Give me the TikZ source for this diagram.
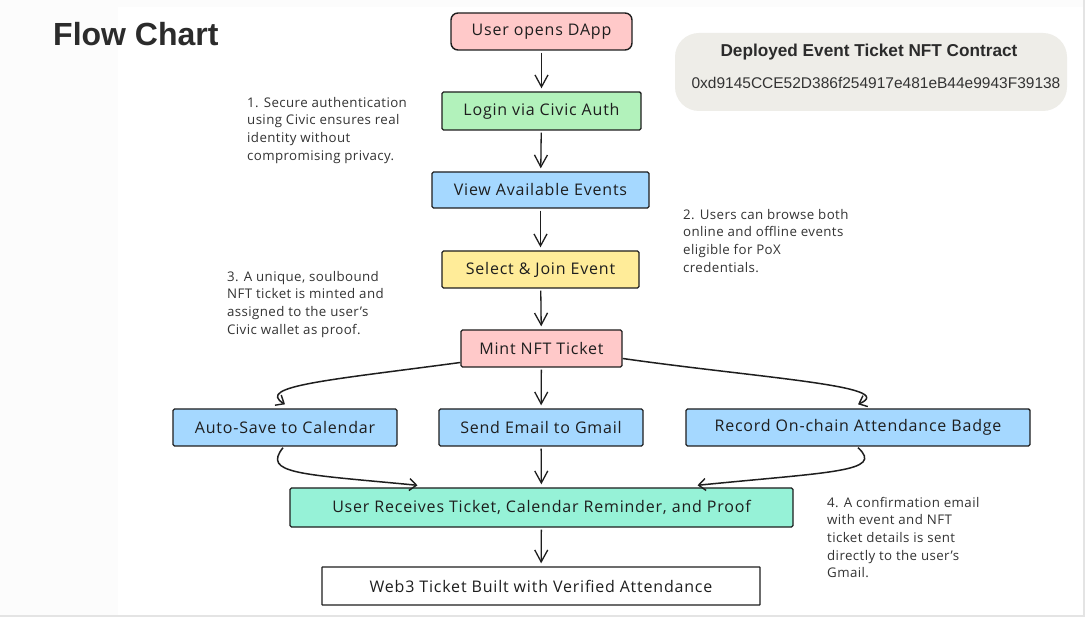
\documentclass[tikz,border=0pt]{standalone}
\usepackage{fontspec}
\setmainfont{Open Sans}
\newfontfamily\titlefont{Liberation Sans}
\usetikzlibrary{arrows.meta}
\definecolor{ink}{HTML}{1E1E1E}
\definecolor{notegray}{HTML}{333333}
\definecolor{cpink}{HTML}{FFC9C9}
\definecolor{cgreen}{HTML}{B2F2BB}
\definecolor{cblue}{HTML}{A5D8FF}
\definecolor{cyellow}{HTML}{FFEC99}
\definecolor{cteal}{HTML}{96F2D7}
\definecolor{cbg}{HTML}{EEEDE8}
\definecolor{titlegray}{HTML}{2B2B2B}
\definecolor{stripgray}{HTML}{FCFCFC}
\definecolor{edgegray}{HTML}{E4E4E4}
\begin{document}
\begin{tikzpicture}[x=1pt,y=-1pt,
  box/.style={draw=ink, line width=1.4pt, rounded corners=1.5pt, minimum height=37pt,
    inner sep=0pt, text=ink, font=\fontsize{16}{19}\selectfont\addfontfeature{LetterSpace=5}},
  note/.style={anchor=north west, align=left, inner sep=0pt, text=notegray,
    font=\fontsize{13.3}{17.6}\selectfont\addfontfeature{LetterSpace=3}},
  arr/.style={draw=ink, line width=1.3pt, shorten <=2pt, shorten >=3pt,
    -{Straight Barb[length=12pt, width=13pt, line width=1.3pt]}},
  carr/.style={draw=ink, line width=1.5pt,
    -{Straight Barb[length=7pt, width=12pt, line width=1.4pt]}}]
\useasboundingbox (0,0) rectangle (1085,617);
% background
\fill[white] (0,0) rectangle (1085,617);
\fill[stripgray] (0,0) rectangle (118,615);
\fill[stripgray] (0,0) rectangle (1085,7);
\fill[edgegray] (0,615) rectangle (1085,617);
\fill[edgegray] (1083,0) rectangle (1085,617);

% title
\node[anchor=base west, inner sep=0pt, text=titlegray,
  font=\titlefont\bfseries\fontsize{32}{36}\selectfont] (title) at (53,46) {Flow Chart};

% contract panel
\node[fill=cbg, rounded corners=24pt, minimum width=392pt, minimum height=78pt,
  inner sep=0pt] (contract) at (871,72) {};
\node[inner sep=0pt, text=titlegray, font=\titlefont\bfseries\fontsize{17.2}{20}\selectfont]
  (ctitle) at (869,52) {Deployed Event Ticket NFT Contract};
\node[inner sep=0pt, text=notegray, font=\titlefont\fontsize{15.5}{18}\selectfont]
  (caddr) at (876,83) {0xd9145CCE52D386f254917e481eB44e9943F39138};

% main flow
\node[box, fill=cpink, rounded corners=7pt, minimum width=181pt] (dapp) at (541.5,31.5) {User opens DApp};
\node[box, fill=cgreen, minimum width=199pt, minimum height=38pt] (login) at (541.5,111) {Login via Civic Auth};
\node[box, fill=cblue, minimum width=217pt, minimum height=36pt] (view) at (540.5,190) {View Available Events};
\node[box, fill=cyellow, minimum width=197pt] (select) at (540.5,269.5) {Select \& Join Event};
\node[box, fill=cpink, minimum width=161pt] (mint) at (541.5,348.5) {Mint NFT Ticket};
\node[box, fill=cblue, minimum width=224pt] (auto) at (285,427.5) {Auto-Save to Calendar};
\node[box, fill=cblue, minimum width=204pt] (send) at (541,427.5) {Send Email to Gmail};
\node[box, fill=cblue, minimum width=344pt] (record) at (858,427.5) {Record On-chain Attendance Badge};
\node[box, fill=cteal, minimum width=503pt, minimum height=39pt] (recv) at (541.5,507.5) {User Receives Ticket, Calendar Reminder, and Proof};
\node[box, fill=white, rounded corners=0.5pt, minimum width=438pt, minimum height=38pt] (web3) at (541,586) {Web3 Ticket Built with Verified Attendance};

% notes
\node[note] (n1) at (247,97) {1. Secure authentication\\using Civic ensures real\\identity without\\compromising privacy.};
\node[note] (n2) at (683,209) {2. Users can browse both\\online and offline events\\eligible for PoX\\credentials.};
\node[note] (n3) at (227,271) {3. A unique, soulbound\\NFT ticket is minted and\\assigned to the user's\\Civic wallet as proof.};
\node[note] (n4) at (827,497) {4. A confirmation email\\with event and NFT\\ticket details is sent\\directly to the user's\\Gmail.};

% connectors
\draw[arr] (dapp) -- (login);
\draw[arr] (login) -- (view);
\draw[arr] (view) -- (select);
\draw[arr] (select) -- (mint);
\draw[arr] (mint) -- (send);
\draw[arr] (send) -- (recv);
\draw[arr] (recv) -- (web3);
\draw[carr] ([yshift=-14pt]mint.west) .. controls (330,380) and (255,386) .. ([yshift=4pt]auto.north);
\draw[carr] ([yshift=-10pt]mint.east) .. controls (760,378) and (900,386) .. ([yshift=4pt]record.north);
\draw[carr] ([xshift=-2pt,yshift=-1pt]auto.south) .. controls (262,474) and (300,474) .. ([xshift=-124pt,yshift=2pt]recv.north);
\draw[carr] ([yshift=-1pt]record.south) .. controls (885,472) and (830,472) .. ([xshift=156pt,yshift=2pt]recv.north);
\end{tikzpicture}
\end{document}
